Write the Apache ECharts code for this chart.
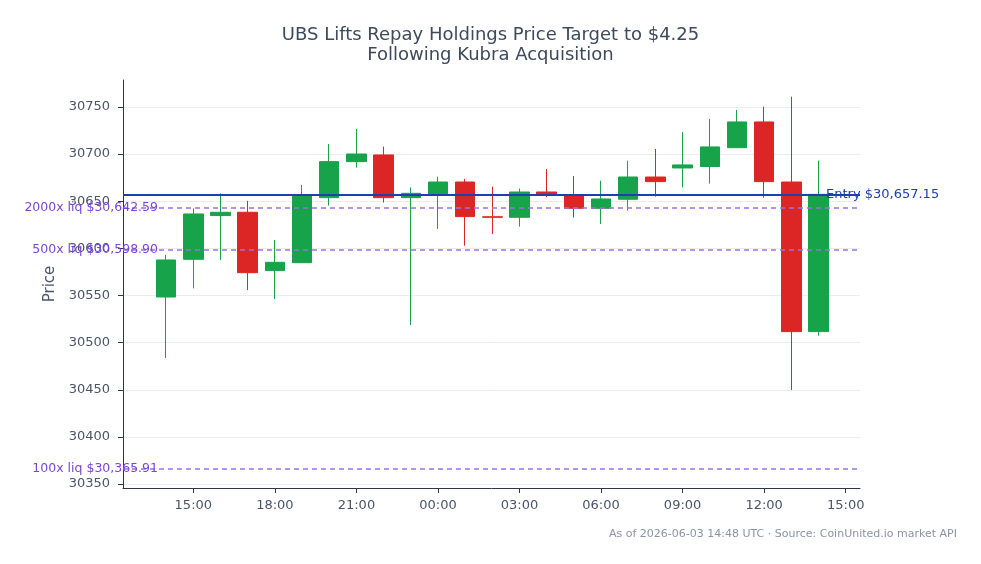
<!DOCTYPE html>
<html>
<head>
<meta charset="utf-8">
<script src="https://cdn.jsdelivr.net/npm/echarts@6/dist/echarts.min.js"></script>
<style>
  html, body { margin: 0; padding: 0; background: #fff; }
  #chart { width: 981px; height: 564px; }
</style>
</head>
<body>
<div id="chart"></div>
<script>
// hourly candles, 2026-06-02 14:00 -> 2026-06-03 14:00 (UTC)
const times = ['06-02 14:00', '06-02 15:00', '06-02 16:00', '06-02 17:00', '06-02 18:00', '06-02 19:00',
  '06-02 20:00', '06-02 21:00', '06-02 22:00', '06-02 23:00', '06-03 00:00', '06-03 01:00', '06-03 02:00',
  '06-03 03:00', '06-03 04:00', '06-03 05:00', '06-03 06:00', '06-03 07:00', '06-03 08:00', '06-03 09:00',
  '06-03 10:00', '06-03 11:00', '06-03 12:00', '06-03 13:00', '06-03 14:00']
const opens = [30548.4, 30588.4, 30634.8, 30638.3, 30576.4, 30584.8, 30653.8, 30692.0, 30699.1, 30653.8,
  30657.7, 30670.4, 30633.5, 30633.0, 30659.8, 30655.6, 30642.5, 30652.1, 30675.7, 30685.3,
  30686.8, 30706.8, 30734.1, 30670.4, 30511.7]
const closes = [30587.7, 30636.5, 30638.3, 30574.2, 30585.2, 30656.6, 30692.0, 30700.1, 30653.8, 30658.4,
  30670.4, 30633.7, 30633.0, 30659.8, 30656.6, 30642.5, 30652.4, 30675.7, 30670.8, 30688.5,
  30707.6, 30734.1, 30670.8, 30511.7, 30657.3]
const lows = [30483.7, 30557.6, 30587.7, 30555.8, 30546.3, 30584.8, 30645.4, 30685.7, 30648.6, 30518.7,
  30620.6, 30602.8, 30615.3, 30623.0, 30654.3, 30632.7, 30625.9, 30640.1, 30654.9, 30664.5,
  30668.7, 30706.8, 30653.8, 30449.7, 30507.4]
const highs = [30593.0, 30642.5, 30658.4, 30650.3, 30608.9, 30667.2, 30710.7, 30726.7, 30708.0, 30664.5,
  30676.1, 30673.6, 30665.4, 30663.4, 30684.2, 30676.8, 30671.9, 30693.1, 30705.4, 30723.5,
  30737.3, 30746.8, 30750.3, 30760.9, 30693.1]

const entryPrice = 30657.15
const liqLevels = [
  { name: '2000x liq $30,642.59', value: 30642.59 },
  { name: '500x liq $30,598.90', value: 30598.90 },
  { name: '100x liq $30,365.91', value: 30365.91 }
]
const priceTicks = [30350, 30400, 30450, 30500, 30550, 30600, 30650, 30700, 30750]
const hourTicks = [15, 18, 21, 24, 27, 30, 33, 36, 39]

// hours counted from 2026-06-02 00:00
function toHours (t) {
  let day = parseInt(t.substr(3, 2)) - 2
  let h = parseInt(t.substr(6, 2))
  return day * 24 + h
}

let candles = times.map((t, i) => [toHours(t), opens[i], closes[i], lows[i], highs[i]])

let chart = echarts.init(document.getElementById('chart'))
let axisColor = '#2d3748'
let labelColor = '#4a5568'

let option = {
  animation: false,
  title: {
    text: 'UBS Lifts Repay Holdings Price Target to $4.25\nFollowing Kubra Acquisition',
    left: 'center',
    top: 20,
    textStyle: { color: '#3d4a5c', fontSize: 18, fontWeight: 'normal', lineHeight: 20, fontFamily: 'DejaVu Sans' }
  },
  graphic: [{
    type: 'text',
    right: 24,
    top: 529,
    style: {
      text: 'As of 2026-06-03 14:48 UTC · Source: CoinUnited.io market API',
      fill: '#8a94a6',
      fontSize: 11,
      fontFamily: 'DejaVu Sans'
    }
  }],
  grid: { left: 123, right: 121, top: 80, bottom: 76 },
  xAxis: {
    type: 'value',
    min: 12.413,
    max: 39.526,
    axisLine: { show: true, lineStyle: { color: axisColor, width: 1 } },
    axisTick: { show: true, length: 5, customValues: hourTicks, lineStyle: { color: axisColor } },
    axisLabel: {
      customValues: hourTicks,
      color: labelColor,
      fontSize: 13,
      fontFamily: 'DejaVu Sans',
      margin: 11,
      formatter: v => String(Math.round(v) % 24).padStart(2, '0') + ':00'
    },
    splitLine: { show: false }
  },
  yAxis: {
    type: 'value',
    min: 30345.8,
    max: 30778.6,
    name: 'Price',
    nameLocation: 'middle',
    nameGap: 56,
    nameTextStyle: { color: labelColor, fontSize: 15, fontFamily: 'DejaVu Sans' },
    axisLine: { show: true, lineStyle: { color: axisColor, width: 1 } },
    axisTick: { show: true, length: 5, customValues: priceTicks, lineStyle: { color: axisColor } },
    axisLabel: {
      customValues: priceTicks,
      color: labelColor,
      fontSize: 13,
      fontFamily: 'DejaVu Sans',
      margin: 13,
      formatter: v => String(Math.round(v))
    },
    splitLine: { show: true, lineStyle: { color: '#ececf0', width: 1 } }
  },
  series: [{
    type: 'candlestick',
    data: candles,
    encode: { x: 0, y: [1, 2, 3, 4] },
    barWidth: 20,
    itemStyle: {
      color: '#16a34a',
      color0: '#dc2626',
      borderColor: '#16a34a',
      borderColor0: '#dc2626',
      borderWidth: 1
    },
    markLine: {
      silent: true,
      symbol: ['none', 'none'],
      animation: false,
      data: liqLevels.map(l => ({
        yAxis: l.value,
        lineStyle: { color: '#9b72e6', type: [5, 4], width: 1.5 },
        label: {
          show: true,
          position: 'start',
          formatter: l.name,
          color: '#7b45d8',
          fontSize: 12.5,
          fontFamily: 'DejaVu Sans',
          distance: 4,
          offset: [39, 0]
        }
      })).concat([{
        yAxis: entryPrice,
        lineStyle: { color: '#1e40af', type: 'solid', width: 2 },
        label: {
          show: true,
          position: 'end',
          formatter: 'Entry $30,657.15',
          color: '#1e40af',
          fontSize: 13,
          fontFamily: 'DejaVu Sans',
          distance: 4,
          offset: [-38, 0]
        }
      }])
    }
  }]
}

chart.setOption(option)
</script>
</body>
</html>
